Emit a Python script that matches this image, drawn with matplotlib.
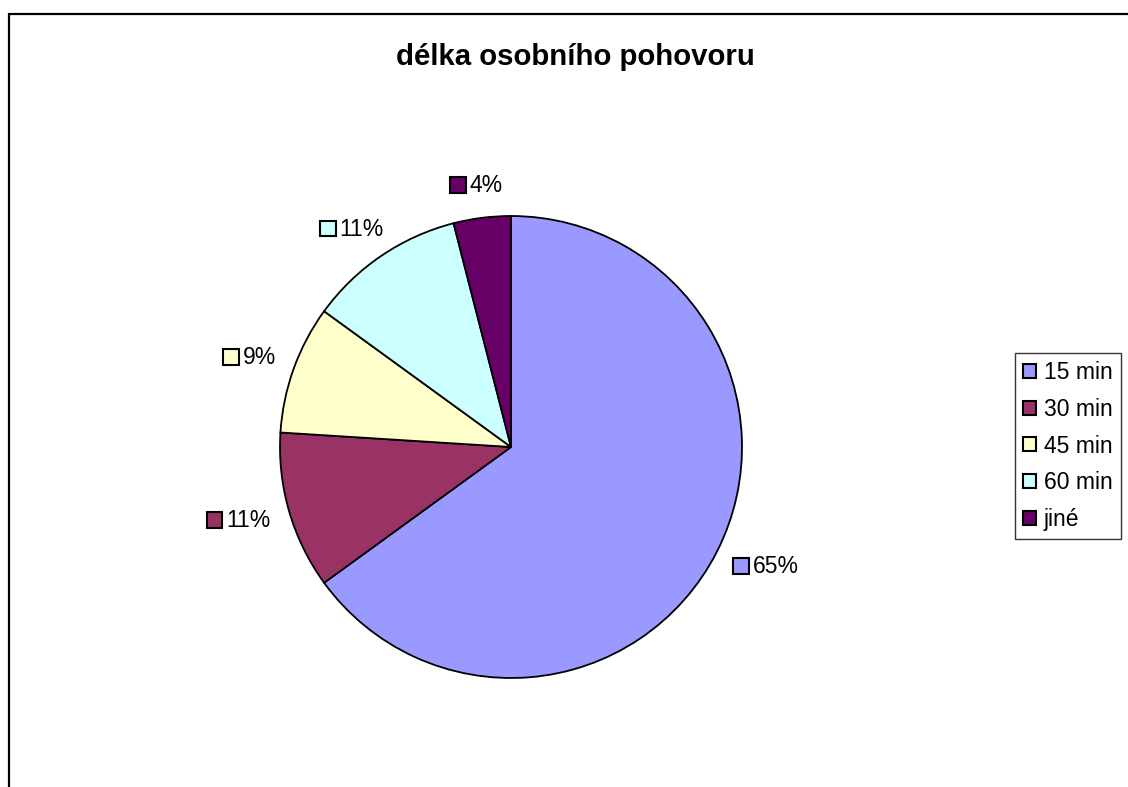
import matplotlib
matplotlib.use('Agg')
import matplotlib.pyplot as plt
import numpy as np
from matplotlib.patches import Rectangle
from matplotlib.offsetbox import DrawingArea, TextArea, HPacker, AnnotationBbox

plt.rcParams['font.family'] = ['Liberation Sans', 'DejaVu Sans']

# --- data ---
categories = ['15 min', '30 min', '45 min', '60 min', 'jiné']
values = [65, 11, 9, 11, 4]
pct_labels = ['65%', '11%', '9%', '11%', '4%']
colors = ['#9999FF', '#993366', '#FFFFCC', '#CCFFFF', '#660066']

W, H = 1128, 787
fig = plt.figure(figsize=(W / 100, H / 100), dpi=100)

# outer chart frame (runs off right/bottom like the original)
fig.patches.append(Rectangle((9 / W, -0.05), 1.1, 1 - 14 / H + 0.05,
                             transform=fig.transFigure, fill=False,
                             edgecolor='black', linewidth=1.6))

# pie axes: centre ~ (511, 447) px, radius ~ 231 px
cx, cy, r = 511, 447, 231
ax = fig.add_axes([(cx - r) / W, (H - cy - r) / H, 2 * r / W, 2 * r / H])

wedges, _ = ax.pie(values, colors=colors, startangle=90, counterclock=False,
                   radius=1, wedgeprops=dict(edgecolor='black', linewidth=1.3))
ax.set_xlim(-1, 1)
ax.set_ylim(-1, 1)
ax.set_aspect('equal')
ax.axis('off')

# data labels with little colour keys, pushed out from each wedge
for w, lab, col in zip(wedges, pct_labels, colors):
    ang = np.deg2rad((w.theta1 + w.theta2) / 2)
    c, s = np.cos(ang), np.sin(ang)
    da = DrawingArea(13, 12, 0, 0)
    da.add_artist(Rectangle((0.8, 0.8), 11.4, 11.4, facecolor=col,
                            edgecolor='black', linewidth=1.5))
    ta = TextArea(lab, textprops=dict(fontsize=16.5, color='black'))
    box = HPacker(children=[da, ta], align='center', pad=0, sep=2)
    ab = AnnotationBbox(box, (1.09 * c, 1.09 * s), frameon=False,
                        box_alignment=(0.5 - 0.5 * c, 0.5 - 0.5 * s),
                        annotation_clip=False)
    ax.add_artist(ab)

fig.text(575 / W, 1 - 57 / H, 'délka osobního pohovoru', ha='center',
         va='center', fontsize=21.2, fontweight='bold')

# legend
leg = fig.legend(wedges, categories, loc='upper left',
                 bbox_to_anchor=(1015 / W, 1 - 353 / H), fontsize=16.5,
                 frameon=True, fancybox=False, edgecolor='black',
                 handlelength=0.56, handleheight=0.56, handletextpad=0.35,
                 labelspacing=0.6, borderpad=0.35, borderaxespad=0)
leg.get_frame().set_linewidth(1.0)
for h in leg.legend_handles:
    h.set_linewidth(1.5)

fig.savefig('out.png', dpi=100)
